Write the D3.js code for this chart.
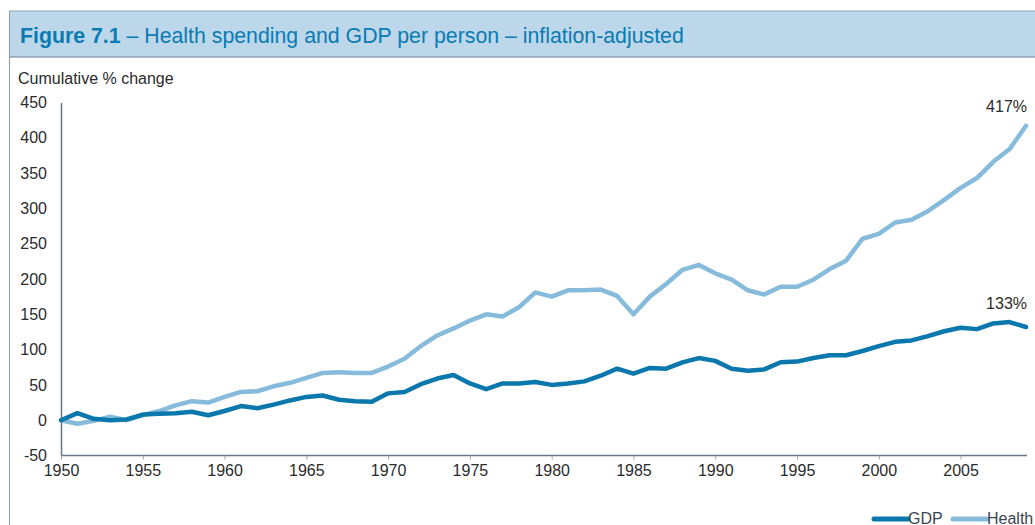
<!DOCTYPE html>
<html>
<head>
<meta charset="utf-8">
<script src="https://cdn.jsdelivr.net/npm/d3@7"></script>
<style>
  body { margin: 0; background: #fff; }
  svg { display: block; font-family: "Liberation Sans", Arial, sans-serif; }
</style>
</head>
<body>
<div id="chart"></div>
<script>
// data
var years = [1950, 1951, 1952, 1953, 1954, 1955, 1956, 1957, 1958, 1959,
  1960, 1961, 1962, 1963, 1964, 1965, 1966, 1967, 1968, 1969,
  1970, 1971, 1972, 1973, 1974, 1975, 1976, 1977, 1978, 1979,
  1980, 1981, 1982, 1983, 1984, 1985, 1986, 1987, 1988, 1989,
  1990, 1991, 1992, 1993, 1994, 1995, 1996, 1997, 1998, 1999,
  2000, 2001, 2002, 2003, 2004, 2005, 2006, 2007, 2008, 2009];

var gdp = [0, 10, 2, 0, 1, 8, 9, 10, 12, 7,
  13, 20, 17, 22, 28, 33, 35, 29, 27, 26,
  38, 40, 51, 59, 64, 52, 44, 52, 52, 54,
  50, 52, 55, 63, 73, 66, 74, 73, 82, 88,
  84, 73, 70, 72, 82, 83, 88, 92, 92, 98,
  105, 111, 113, 119, 126, 131, 129, 137, 139, 132];

var health = [0, -5, -1, 5, 0, 7, 13, 21, 27, 25,
  33, 40, 41, 48, 53, 60, 67, 68, 67, 67,
  76, 87, 105, 120, 130, 141, 150, 147, 160, 181,
  175, 184, 184, 185, 176, 150, 175, 193, 213, 220,
  208, 199, 184, 178, 189, 189, 199, 214, 226, 257,
  264, 280, 284, 296, 312, 329, 343, 366, 384, 417];

var yTicks = [-50, 0, 50, 100, 150, 200, 250, 300, 350, 400, 450];
var xTicks = [1950, 1955, 1960, 1965, 1970, 1975, 1980, 1985, 1990, 1995, 2000, 2005];
var seriesNames = ["GDP", "Health"];
var endLabels = ["133%", "417%"];

var width = 1035, height = 525;
var dark = "#0a77ad", light = "#86bbdc", axisCol = "#6b7785", textCol = "#2b2b2b";
var fs = "16px";

var svg = d3.select("#chart").append("svg")
  .attr("width", width)
  .attr("height", height);

// frame + title bar
svg.append("rect")
  .attr("x", 9).attr("y", 11)
  .attr("width", width).attr("height", 46)
  .attr("fill", "#bcd7e9");
svg.append("line")
  .attr("x1", 9).attr("x2", width).attr("y1", 11).attr("y2", 11)
  .attr("stroke", "#91a4b6").attr("stroke-width", 1.2);
svg.append("line")
  .attr("x1", 9).attr("x2", width).attr("y1", 57).attr("y2", 57)
  .attr("stroke", "#6f8090").attr("stroke-width", 1.2);
svg.append("line")
  .attr("x1", 9.5).attr("x2", 9.5).attr("y1", 11).attr("y2", height)
  .attr("stroke", "#8c9aa8").attr("stroke-width", 1);

var title = svg.append("text")
  .attr("x", 20).attr("y", 42.5)
  .attr("fill", "#0b7bb3")
  .style("font-size", "21.3px");
title.append("tspan").attr("font-weight", "bold").text("Figure 7.1");
title.append("tspan").text(" \u2013 Health spending and GDP per person \u2013 inflation-adjusted");

svg.append("text")
  .attr("x", 18).attr("y", 84)
  .attr("fill", textCol)
  .style("font-size", fs)
  .text("Cumulative % change");

// scales
var x = d3.scaleLinear().domain([1950, 2009]).range([61, 1026]);
var y = d3.scaleLinear().domain([-50, 450]).range([455.5, 102.5]);

// y axis
var yAxis = svg.append("g")
  .attr("transform", "translate(61,0)")
  .call(d3.axisLeft(y).tickValues(yTicks).tickSize(0).tickPadding(14)
    .tickFormat(function (d) { return String(d); }));
yAxis.select(".domain").attr("stroke", axisCol).attr("stroke-width", 1.5);
yAxis.selectAll("text").attr("fill", textCol).style("font-size", fs)
  .attr("font-family", null);

// x axis
var xAxis = svg.append("g")
  .attr("transform", "translate(0," + y(-50) + ")")
  .call(d3.axisBottom(x).tickValues(xTicks).tickFormat(d3.format("d"))
    .tickSizeInner(4).tickSizeOuter(0).tickPadding(5));
xAxis.select(".domain").attr("stroke", axisCol).attr("stroke-width", 1.5)
  .attr("d", "M61,0H1027");
xAxis.selectAll(".tick line").attr("stroke", "#9aa5b1");
xAxis.selectAll("text").attr("fill", textCol).style("font-size", fs)
  .attr("font-family", null);

// lines
var line = d3.line()
  .x(function (d, i) { return x(years[i]); })
  .y(function (d) { return y(d); });

var series = [gdp, health];
var colors = [dark, light];

// health drawn first, gdp over it
[1, 0].forEach(function (k) {
  svg.append("path")
    .datum(series[k])
    .attr("fill", "none")
    .attr("stroke", colors[k])
    .attr("stroke-width", 4.5)
    .attr("stroke-linejoin", "round")
    .attr("stroke-linecap", "round")
    .attr("d", line);
});

// end labels
svg.append("text")
  .attr("x", 1027).attr("y", 112)
  .attr("text-anchor", "end")
  .attr("fill", textCol).style("font-size", fs)
  .text(endLabels[1]);
svg.append("text")
  .attr("x", 1027).attr("y", 309)
  .attr("text-anchor", "end")
  .attr("fill", textCol).style("font-size", fs)
  .text(endLabels[0]);

// legend
var legendX = [874, 953];
seriesNames.forEach(function (name, k) {
  var g = svg.append("g").attr("transform", "translate(" + legendX[k] + ",519)");
  g.append("line")
    .attr("x1", 0).attr("x2", 34)
    .attr("stroke", colors[k]).attr("stroke-width", 5)
    .attr("stroke-linecap", "round");
  g.append("text")
    .attr("x", 34).attr("y", 4.5)
    .attr("fill", "#3a4654").style("font-size", fs)
    .text(name);
});
</script>
</body>
</html>
